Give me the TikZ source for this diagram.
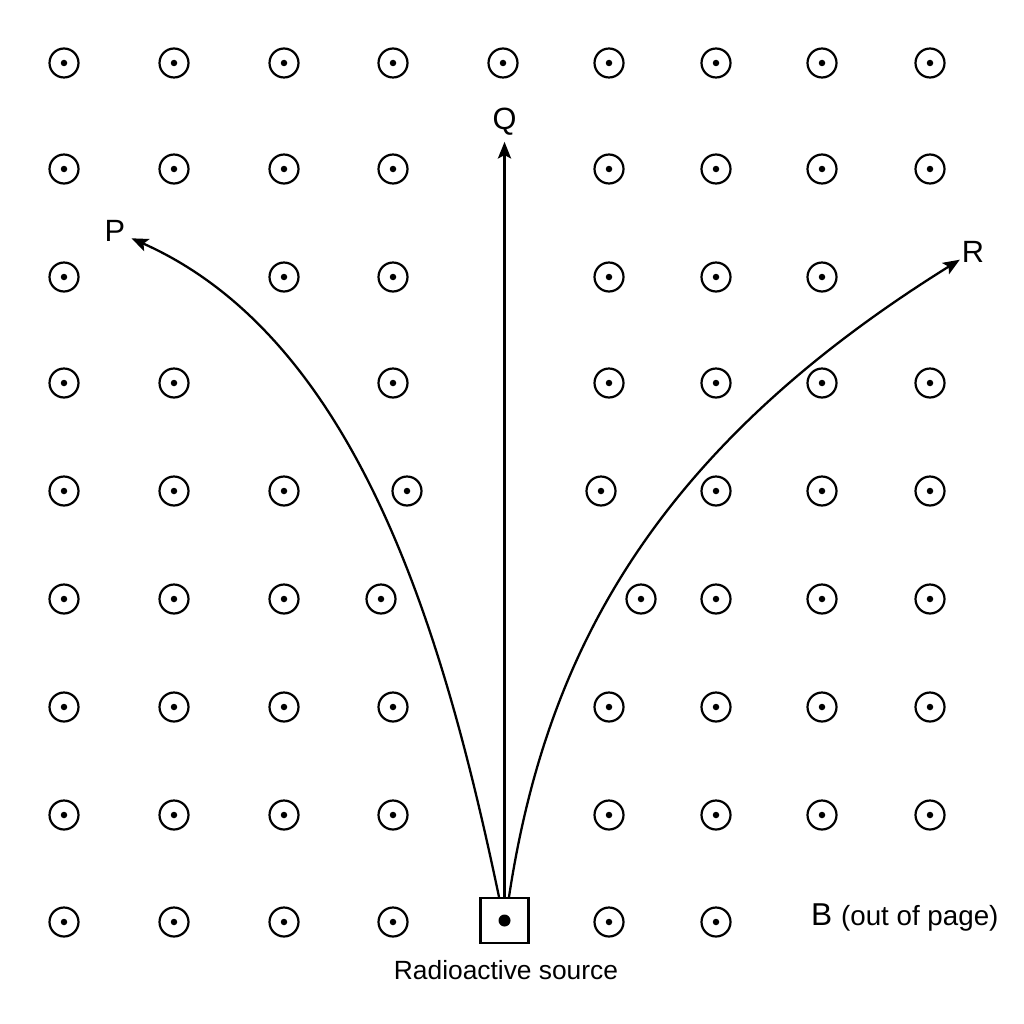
\documentclass[tikz,border=0pt]{standalone}
\usepackage{fontspec}
\setmainfont{Liberation Sans}
\usetikzlibrary{arrows.meta,positioning}

\tikzset{
  fieldpt/.pic={
    \draw[line width=1.25pt] (0,0) circle (0.29cm);
    \fill (0,0) circle (0.065cm);
  },
  ray/.style={line width=1.3pt,-{Stealth[length=9.5pt,width=7.5pt,inset=2pt]}},
  lbl/.style={font=\fontsize{17.5}{20}\selectfont}
}

\begin{document}
\begin{tikzpicture}[x=0.02cm,y=-0.02cm]
  \useasboundingbox (0,0) rectangle (1024,1024);
  % field out of the page
  \foreach \x in {64,174,284,393,503,609,716,822,930}
    \pic at (\x,63) {fieldpt};
  \foreach \x in {64,174,284,393,609,716,822,930}
    \pic at (\x,169) {fieldpt};
  \foreach \x in {64,284,393,609,716,822}
    \pic at (\x,277) {fieldpt};
  \foreach \x in {64,174,393,609,716,822,930}
    \pic at (\x,383) {fieldpt};
  \foreach \x in {64,174,284,407,601,716,822,930}
    \pic at (\x,491) {fieldpt};
  \foreach \x in {64,174,284,381,641,716,822,930}
    \pic at (\x,599) {fieldpt};
  \foreach \x in {64,174,284,393,609,716,822,930}
    \pic at (\x,707) {fieldpt};
  \foreach \x in {64,174,284,393,609,716,822,930}
    \pic at (\x,815) {fieldpt};
  \foreach \x in {64,174,284,393,609,716}
    \pic at (\x,922) {fieldpt};

  % source
  \node[draw,line width=1.25pt,minimum width=0.96cm,minimum height=0.9cm] (src) at (504.5,920.5) {};
  \fill (src.center) circle (0.12cm);
  \node (srclbl) at (506,970) {\fontsize{15}{18}\selectfont Radioactive source};

  % tracks
  \node[lbl] (P) at (115,231) {P};
  \node[lbl] (Q) at (504.5,122) {Q};
  \node[lbl,inner sep=1pt] (R) at (973,251.5) {R};

  \draw[ray] ([xshift=-0.11cm]src.north) .. controls (445,640) and (360,340) .. (P);
  \draw[ray] (src.north) -- (Q);
  \draw[ray] ([xshift=0.09cm]src.north) .. controls (545,660) and (649,453) .. (R);

  \node[anchor=base west] (field) at (805,925) {\fontsize{18}{20}\selectfont B \fontsize{15.8}{18}\selectfont(out of page)};
\end{tikzpicture}
\end{document}
